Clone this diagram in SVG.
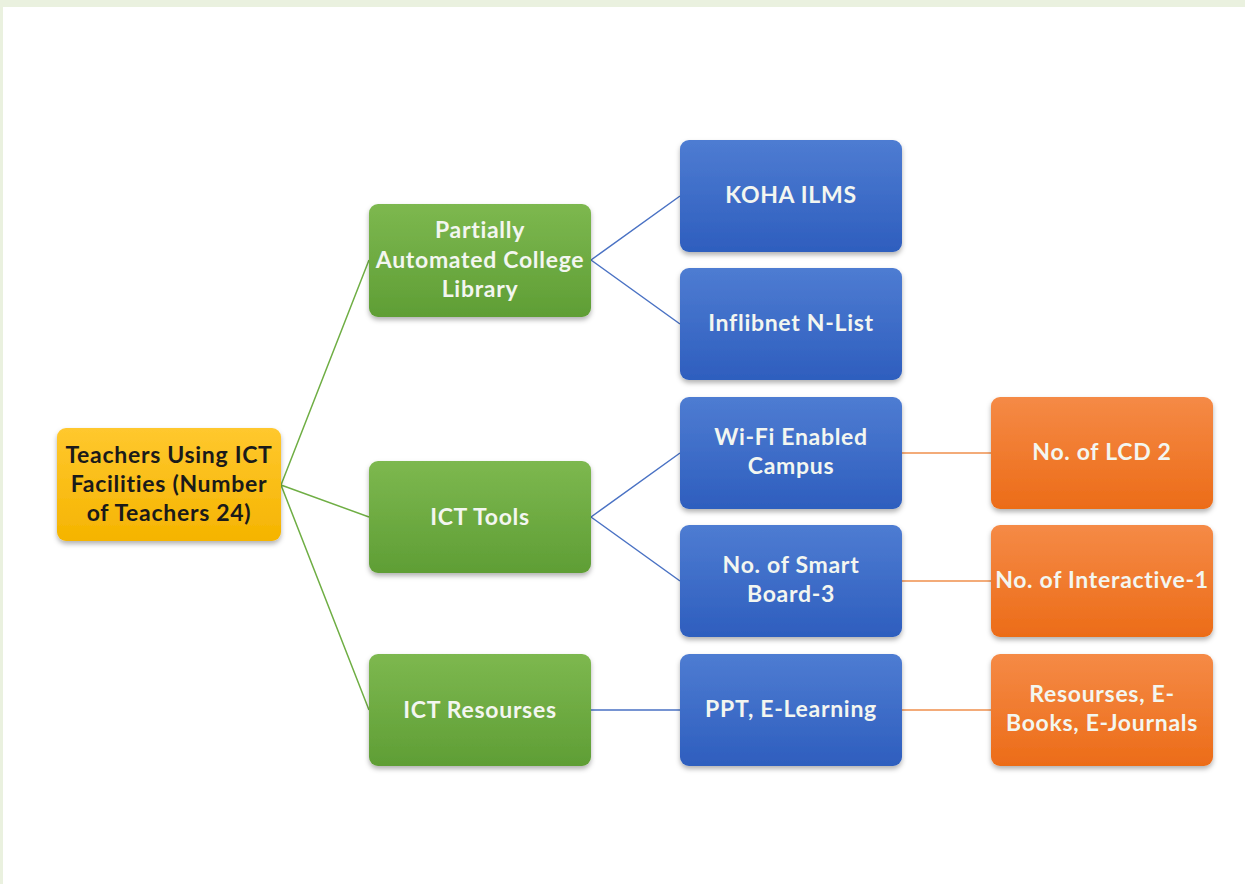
<svg xmlns="http://www.w3.org/2000/svg" width="1245" height="884" viewBox="0 0 1245 884">
<defs>
<linearGradient id="gY" x1="0" y1="0" x2="0" y2="1"><stop offset="0" stop-color="#FFC82E"/><stop offset="1" stop-color="#F5B400"/></linearGradient>
<linearGradient id="gG" x1="0" y1="0" x2="0" y2="1"><stop offset="0" stop-color="#7DB84F"/><stop offset="1" stop-color="#5F9E35"/></linearGradient>
<linearGradient id="gB" x1="0" y1="0" x2="0" y2="1"><stop offset="0" stop-color="#4E7CD2"/><stop offset="1" stop-color="#2E5EBE"/></linearGradient>
<linearGradient id="gO" x1="0" y1="0" x2="0" y2="1"><stop offset="0" stop-color="#F58A46"/><stop offset="1" stop-color="#EC6C18"/></linearGradient>
<filter id="sh" x="-10%" y="-10%" width="120%" height="130%"><feDropShadow dx="0" dy="3" stdDeviation="2.5" flood-color="#000" flood-opacity="0.3"/></filter>
</defs>
<style>
.n{filter:url(#sh)}
.t{font-family:Lato,"Noto Sans",sans-serif;font-weight:bold;font-size:23px;letter-spacing:0.7px;text-anchor:middle;fill:#F3F6F0}
.tk{fill:#1A1A1A}
.cg{stroke:#6FAE44;stroke-width:1.5;fill:none}
.cb{stroke:#4A72C4;stroke-width:1.5;fill:none}
.co{stroke:#F0904E;stroke-width:1.5;fill:none}
</style>
<rect x="0" y="0" width="1245" height="884" fill="#FFFFFF"/>
<rect x="0" y="0" width="1245" height="7" fill="#EAF1DF"/>
<rect x="0" y="0" width="3" height="884" fill="#EAF1DF"/>
<g id="connectors">
<path class="cg" d="M281 485 L369 260 M281 485 L369 517 M281 485 L369 710"/>
<path class="cb" d="M591 260 L680 196 M591 260 L680 324 M591 517 L680 453 M591 517 L680 581 M591 710 L680 710"/>
<path class="co" d="M902 453 L991 453 M902 581 L991 581 M902 710 L991 710"/>
</g>
<g id="root"><rect class="n" x="57" y="428" width="224" height="113" rx="9" fill="url(#gY)"/>
<text class="t tk" x="169" y="463">Teachers Using ICT</text><text class="t tk" x="169" y="492">Facilities (Number</text><text class="t tk" x="169" y="521">of Teachers 24)</text></g>
<g id="library"><rect class="n" x="369" y="204" width="222" height="113" rx="9" fill="url(#gG)"/>
<text class="t" x="480" y="238">Partially</text><text class="t" x="480" y="268">Automated College</text><text class="t" x="480" y="297">Library</text></g>
<g id="ict-tools"><rect class="n" x="369" y="461" width="222" height="112" rx="9" fill="url(#gG)"/>
<text class="t" x="480" y="525">ICT Tools</text></g>
<g id="ict-resources"><rect class="n" x="369" y="654" width="222" height="112" rx="9" fill="url(#gG)"/>
<text class="t" x="480" y="718">ICT Resourses</text></g>
<g id="koha"><rect class="n" x="680" y="140" width="222" height="112" rx="9" fill="url(#gB)"/>
<text class="t" x="791" y="203">KOHA ILMS</text></g>
<g id="inflibnet"><rect class="n" x="680" y="268" width="222" height="112" rx="9" fill="url(#gB)"/>
<text class="t" x="791" y="331">Inflibnet N-List</text></g>
<g id="wifi"><rect class="n" x="680" y="397" width="222" height="112" rx="9" fill="url(#gB)"/>
<text class="t" x="791" y="445">Wi-Fi Enabled</text><text class="t" x="791" y="474">Campus</text></g>
<g id="smartboard"><rect class="n" x="680" y="525" width="222" height="112" rx="9" fill="url(#gB)"/>
<text class="t" x="791" y="573">No. of Smart</text><text class="t" x="791" y="602">Board-3</text></g>
<g id="ppt"><rect class="n" x="680" y="654" width="222" height="112" rx="9" fill="url(#gB)"/>
<text class="t" x="791" y="717">PPT, E-Learning</text></g>
<g id="lcd"><rect class="n" x="991" y="397" width="222" height="112" rx="9" fill="url(#gO)"/>
<text class="t" x="1102" y="460">No. of LCD 2</text></g>
<g id="interactive"><rect class="n" x="991" y="525" width="222" height="112" rx="9" fill="url(#gO)"/>
<text class="t" x="1102" y="588">No. of Interactive-1</text></g>
<g id="ebooks"><rect class="n" x="991" y="654" width="222" height="112" rx="9" fill="url(#gO)"/>
<text class="t" x="1102" y="702">Resourses, E-</text><text class="t" x="1102" y="731">Books, E-Journals</text></g>
</svg>
